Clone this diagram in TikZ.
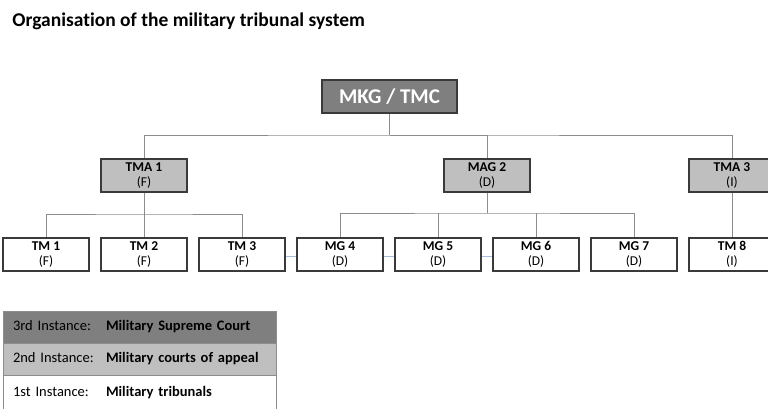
\documentclass[tikz,border=0pt]{standalone}
\usepackage{fontspec}
\setmainfont{Carlito}[Ligatures=NoCommon]
\usetikzlibrary{positioning, calc}
\definecolor{cdark}{HTML}{7F7F7F}
\definecolor{clight}{HTML}{BFBFBF}
\definecolor{cline}{HTML}{8C8C8C}
\definecolor{cedge}{HTML}{3A3A3A}
\definecolor{cblue}{HTML}{A9BCDC}
\tikzset{
  every picture/.style={x=1pt, y=-1pt, line width=0.8pt},
  court/.style={draw=cedge, fill=#1, line width=1.3pt, align=center, inner sep=0pt,
    minimum width=86pt, minimum height=33pt, font=\fontsize{13.5}{15}\selectfont},
  court/.default=white,
  link/.style={draw=cline, line width=1pt},
  faint/.style={draw=cblue, line width=0.8pt},
  title/.style={font=\bfseries\fontsize{19.5}{22}\selectfont, anchor=base west, inner sep=0pt},
  row/.style={draw=cline, fill=#1, line width=1pt, minimum width=273pt, minimum height=32pt,
    inner sep=0pt, text width=253pt, font=\fontsize{14.5}{17}\selectfont},
}

\begin{document}
\begin{tikzpicture}
  \useasboundingbox (0,0) rectangle (768,408);
  \node[title] (head) at (12,26) {Organisation of the military tribunal system};
  % top court
  \node[court=cdark, minimum width=135pt, font=\bfseries\fontsize{21}{24}\selectfont, text=white] (mkg) at (389.5,96.5) {MKG / TMC};
  % courts of appeal
  \node[court=clight] (tma1) at (144,175.5) {\textbf{TMA 1}\\(F)};
  \node[court=clight] (mag2) at (487,175.5) {\textbf{MAG 2}\\(D)};
  \node[court=clight] (tma3) at (732,175.5) {\textbf{TMA 3}\\(I)};
  % tribunals
  \foreach \n/\lab/\c [count=\i] in {tm1/TM 1/F, tm2/TM 2/F, tm3/TM 3/F, mg4/MG 4/D,
      mg5/MG 5/D, mg6/MG 6/D, mg7/MG 7/D, tm8/TM 8/I}
    \node[court] (\n) at (46+98*\i-98,254.5) {\textbf{\lab}\\(\c)};
  \coordinate (bus1) at (389.5,135);
  \coordinate (bus2) at (144,214);
  \coordinate (bus3) at (487,213);
  \draw[link] (mkg) -- (bus1);
  \draw[link] (tma1.north) |- (bus1) -| (tma3.north);
  \draw[link] (bus1) -| (mag2.north);
  \draw[link] (tma1) -- (tm2);
  \draw[link] (tm1.north) |- (bus2) -| (tm3.north);
  \draw[link] (mag2) -- (bus3);
  \draw[link] (mg4.north) |- (bus3) -| (mg7.north);
  \draw[link] (mg5.north) -- (mg5.north |- bus3);
  \draw[link] (mg6.north) -- (mg6.north |- bus3);
  \draw[link] (tma3) -- (tm8);
  \foreach \a/\b in {tm3/mg4, mg4/mg5, mg5/mg6}
    \draw[faint] ([yshift=-2pt]\a.east) -- ([yshift=-2pt]\b.west);
  % instances
  \node[row=cdark] (inst3) at (139.5,327) {\makebox[93pt][l]{3rd Instance:}\textbf{Military Supreme Court}};
  \node[row=clight] (inst2) at (139.5,359) {\makebox[93pt][l]{2nd Instance:}\textbf{Military courts of appeal}};
  \node[row=white, minimum height=36pt] (inst1) at (139.5,393) {\makebox[93pt][l]{1st Instance:}\textbf{Military tribunals}};
\end{tikzpicture}
\end{document}
